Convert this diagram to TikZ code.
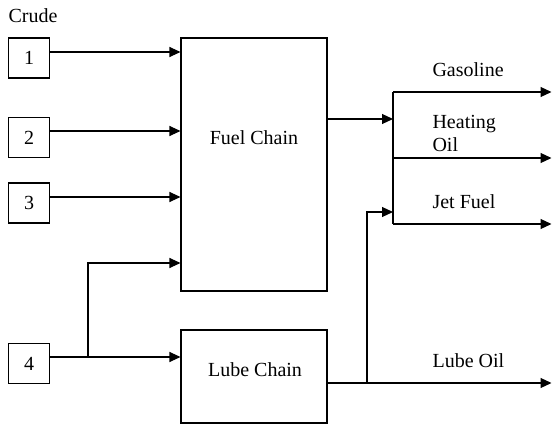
\documentclass[tikz,border=0pt]{standalone}
\usepackage{fontspec}
\setmainfont{Liberation Serif}
\usetikzlibrary{arrows.meta}
\begin{document}
\begin{tikzpicture}[x=1pt,y=-1pt,
  line width=1.1pt,
  every node/.style={font=\fontsize{20}{22}\selectfont},
  smallbox/.style={draw,minimum width=41pt,minimum height=40pt,inner sep=0pt},
  chainbox/.style={draw,minimum width=146pt,inner sep=0pt},
  lbl/.style={anchor=west,inner sep=0pt,align=left},
  arr/.style={-{Triangle[length=11pt,width=10pt]}}]
\useasboundingbox (0,0) rectangle (552,425);
% input boxes
\node[inner sep=0pt] (crude) at (33,16) {Crude};
\node[smallbox] (b1) at (29,58) {1};
\node[smallbox] (b2) at (29,137.5) {2};
\node[smallbox] (b3) at (29,203) {3};
\node[smallbox] (b4) at (29,363.5) {4};
% chains
\node[chainbox,minimum height=253pt] (fuel) at (254,164.5) {};
\node[inner sep=0pt] (fueltxt) at (254,138) {Fuel Chain};
\node[chainbox,minimum height=93pt] (lube) at (254,376.5) {};
\node[inner sep=0pt] (lubetxt) at (255,370) {Lube Chain};
% inputs
\draw[arr] (b1.east |- 0,52) -- (fuel.west |- 0,52);
\draw[arr] (b2.east |- 0,131) -- (fuel.west |- 0,131);
\draw[arr] (b3.east |- 0,197) -- (fuel.west |- 0,197);
\coordinate (split4) at (88,357);
\draw (b4.east |- split4) -- (split4);
\draw[arr] (split4) -- (lube.west |- split4);
\draw[arr] (split4) |- (fuel.west |- 0,263);
% collector
\coordinate (coltop) at (393,92);
\coordinate (colmid) at (393,158);
\coordinate (colbot) at (393,224);
\draw (coltop) -- (colbot);
\draw[arr] (fuel.east |- 0,119) -- (coltop |- 0,119);
% lube output
\coordinate (lubesplit) at (367,383);
\coordinate (lubeend) at (551.5,383);
\draw[arr] (lube.east |- lubesplit) -- (lubeend);
\draw[arr] (lubesplit) |- (coltop |- 0,212);
% product outputs
\coordinate (gasend) at (551.5,92);
\coordinate (heatend) at (551.5,158);
\coordinate (jetend) at (551.5,224);
\draw[arr] (coltop) -- (gasend);
\draw[arr] (colmid) -- (heatend);
\draw[arr] (colbot) -- (jetend);
% labels
\node[lbl] (gas) at (432,70) {Gasoline};
\node[lbl] (heat) at (432,133) {Heating\\[1pt]Oil};
\node[lbl] (jet) at (432,202) {Jet Fuel};
\node[lbl] (lubeoil) at (432,361) {Lube Oil};
\end{tikzpicture}
\end{document}
